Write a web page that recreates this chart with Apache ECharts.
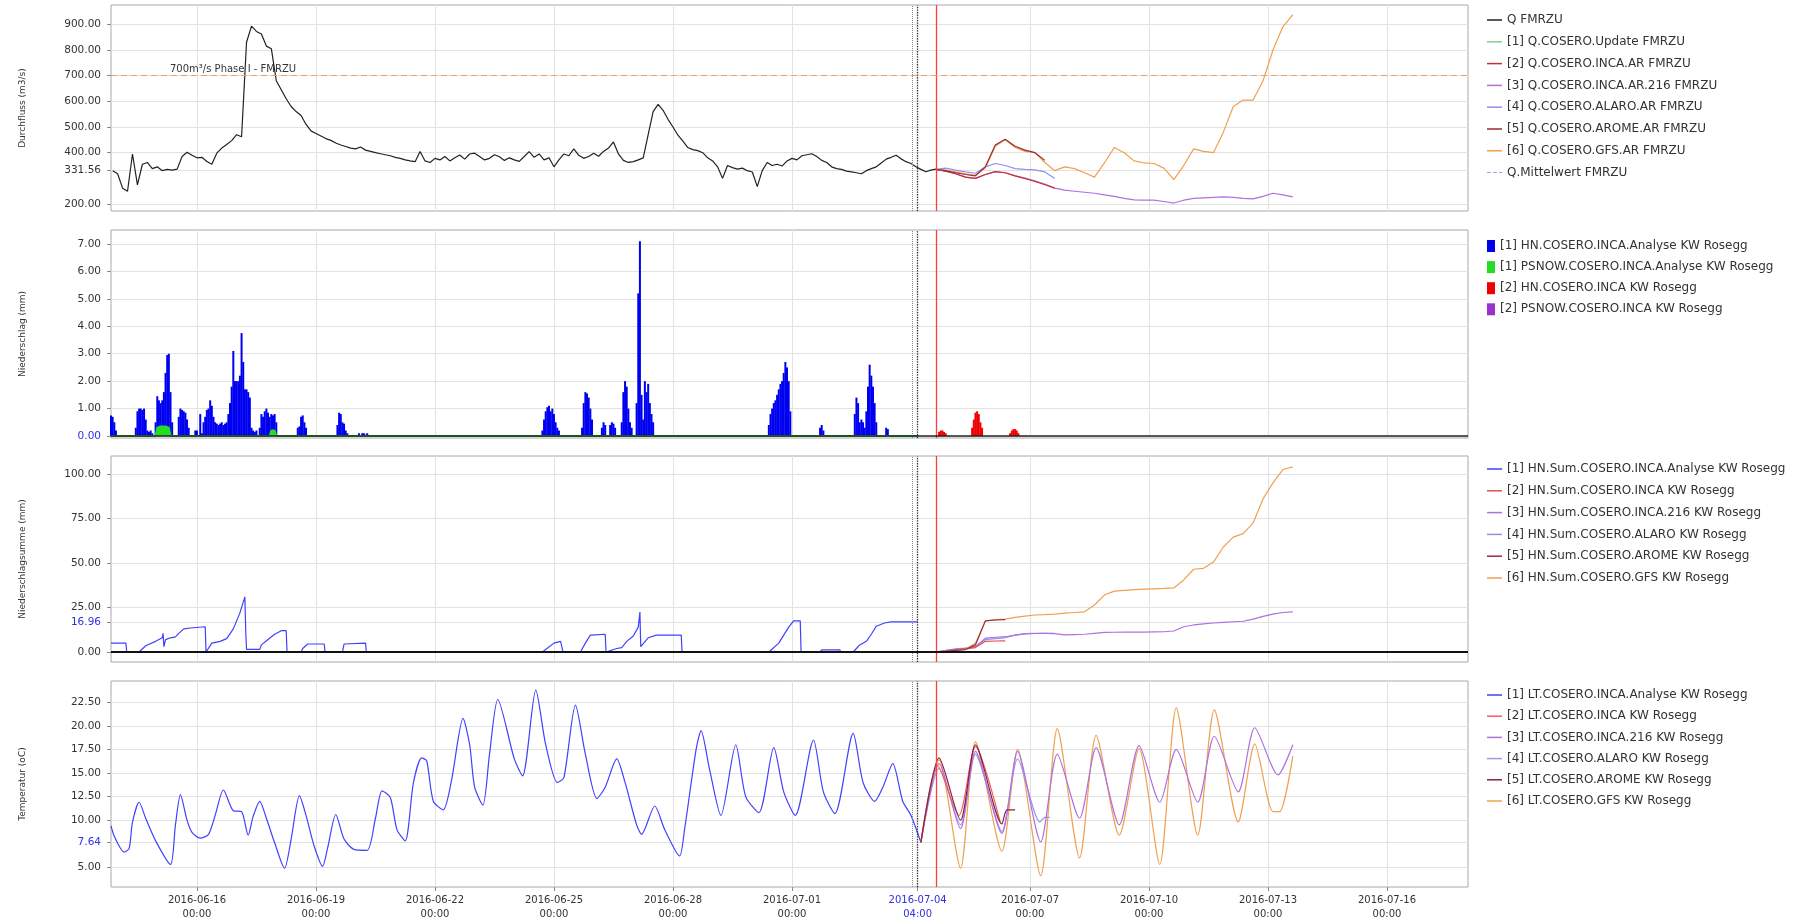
<!DOCTYPE html>
<html>
<head>
<meta charset="utf-8">
<title>FMRZU</title>
<script src="https://cdn.jsdelivr.net/npm/echarts@6/dist/echarts.min.js"></script>
<style>
html, body { margin: 0; padding: 0; background: #fff; }
#chart { width: 1808px; height: 918px; }
</style>
</head>
<body>
<div id="chart"></div>
<script>
const FONT = "DejaVu Sans"
const YEAR = 2016

const xStart = "06-13 20:00"
const xEnd = "07-18 01:00"
const forecastBase = "07-04 04:00"
const runTime = "07-04 15:30"
const xTicks = ["06-16 00:00", "06-19 00:00", "06-22 00:00", "06-25 00:00", "06-28 00:00", "07-01 00:00",
  "07-04 04:00", "07-07 00:00", "07-10 00:00", "07-13 00:00", "07-16 00:00"]

const qTicks = [200, 331.56, 400, 500, 600, 700, 800, 900]
const hnTicks = [0, 1, 2, 3, 4, 5, 6, 7]
const sumTicks = [0, 16.96, 25, 50, 75, 100]
const ltTicks = [5, 7.64, 10, 12.5, 15, 17.5, 20, 22.5]

// Durchfluss, observed, 3h steps from 06-13 21:00
const qObsStart = "06-13 21:00"
const qObs = [330, 318, 262, 250, 395, 275, 355, 362, 338, 345, 330, 335, 332, 336, 385, 402, 390,
  380, 382, 366, 355, 398, 418, 432, 447,
  470, 462, 830, 893, 872, 862, 815, 805,
  680, 645, 610, 580, 560, 545, 510, 485,
  475, 465, 455, 448, 438, 430, 424, 418,
  415, 422, 410, 405, 400, 396, 392, 388,
  382, 378, 372, 368, 365, 405, 368, 362,
  378, 372, 385, 368, 380, 391, 375, 395,
  398, 385, 372, 378, 392, 384, 370, 380,
  372, 366, 385, 404, 382, 395, 372, 380,
  345, 372, 395, 388, 415, 390, 378, 385,
  398, 386, 405, 418, 442, 395, 370, 362,
  365, 372, 380, 470, 560, 588, 565, 530,
  500, 468, 445, 420, 412, 408, 400, 380,
  368, 345, 300, 350, 342, 336, 340, 330,
  325, 268, 330, 362, 350, 355, 348, 368,
  378, 372, 388, 392, 396, 385, 370, 362,
  345, 338, 335, 328, 325, 322, 318, 330,
  338, 345, 360, 375, 382, 390, 376, 365,
  358, 345, 335, 326, 332, 336]

// forecasts, 6h steps from 07-04 15:00
const fcStart = "07-04 15:00"
const qGfs = [335, 332, 325, 318, 312, 340, 425, 450, 420, 405, 400, 362, 330, 345, 338, 322, 305, 360, 420,
  400, 368, 360, 358, 340, 295, 350, 415, 405, 400, 480, 580, 605, 605, 680, 800, 890, 938]
const qInca216 = [335, 328, 318, 305, 300, 315, 326, 322, 310, 300, 290, 278, 262, 254, 250, 246, 242, 236, 230,
  222, 216, 215, 215, 210, 204, 215, 222, 224, 226, 228, 226, 222, 220, 230, 242, 236, 228]
const qAlaro = [335, 340, 332, 325, 320, 345, 358, 350, 338, 335, 333, 325, 300]
const qInca = [335, 328, 318, 305, 300, 315, 326, 322, 310, 300, 288, 275, 262]
const qArome = [335, 330, 322, 315, 310, 345, 430, 452, 425, 410, 400, 370]

// Niederschlag, hourly rain events [start, values]
const hnObsEvents = [
  ["06-13 20:00", [0.75, 0.7, 0.5, 0.2]],
  ["06-14 11:00", [0.3, 0.9, 1.0, 1.0, 0.95, 1.0, 0.6, 0.2]],
  ["06-14 19:00", [0.15, 0.2, 0.1]],
  ["06-14 23:00", [0.5, 1.45, 1.3, 1.2, 1.3, 1.6, 2.3, 2.95, 3.0, 1.6, 0.5]],
  ["06-15 13:00", [0.7, 1.0, 0.95, 0.9, 0.85, 0.6, 0.3]],
  ["06-15 23:00", [0.2, 0.2, 0, 0.8, 0.1]],
  ["06-16 04:00", [0.5, 0.7, 0.95, 1.0, 1.3, 1.1, 0.7, 0.5, 0.45]],
  ["06-16 13:00", [0.4, 0.45, 0.5, 0.4, 0.45, 0.5]],
  ["06-16 19:00", [0.8, 1.2, 1.8, 3.1, 2.0, 2.0, 2.0, 2.2, 3.75, 2.7, 1.7, 1.7, 1.6, 1.4, 0.3]],
  ["06-17 10:00", [0.2, 0.15, 0.2]],
  ["06-17 14:00", [0.3, 0.8, 0.7, 0.9, 1.0, 0.85, 0.7, 0.8, 0.75, 0.8, 0.5]],
  ["06-18 13:00", [0.3, 0.35, 0.7, 0.75, 0.5, 0.3]],
  ["06-19 13:00", [0.4, 0.85, 0.8, 0.5, 0.45, 0.2, 0.1]],
  ["06-20 02:00", [0.1, 0, 0.1, 0.1, 0.05, 0.1]],
  ["06-24 17:00", [0.2, 0.6, 0.9, 1.05, 1.1, 0.9, 1.0, 0.8, 0.5, 0.3, 0.2]],
  ["06-25 17:00", [0.3, 1.2, 1.6, 1.55, 1.4, 1.0, 0.6]],
  ["06-26 05:00", [0.3, 0.5, 0.4]],
  ["06-26 10:00", [0.4, 0.5, 0.45, 0.3]],
  ["06-26 17:00", [0.5, 1.6, 2.0, 1.8, 1.0, 0.5, 0.3]],
  ["06-27 02:00", [1.2, 5.2, 7.1, 1.5, 0.6, 2.0, 1.6, 1.9, 1.2, 0.8, 0.5]],
  ["06-30 10:00", [0.4, 0.8, 1.0, 1.2, 1.3, 1.5, 1.7, 1.9, 2.0, 2.3, 2.7, 2.5, 2.0, 0.9]],
  ["07-01 17:00", [0.3, 0.4, 0.2]],
  ["07-02 14:00", [0.8, 1.4, 1.2, 0.5]],
  ["07-02 18:00", [0.6, 0.5, 0.3]],
  ["07-02 21:00", [0.9, 1.8, 2.6, 2.2, 1.8, 1.2, 0.5]],
  ["07-03 09:00", [0.3, 0.25]]
]
const psnowObs = [["06-13 20:00", 0], ["06-14 23:00", 0], ["06-15 00:00", 0.3], ["06-15 02:00", 0.35],
  ["06-15 05:00", 0.35], ["06-15 07:00", 0.3], ["06-15 08:00", 0], ["06-17 20:00", 0], ["06-17 21:00", 0.2],
  ["06-17 23:00", 0.2], ["06-18 00:00", 0], ["07-04 04:00", 0]]
const hnIncaEvents = [
  ["07-04 17:00", [0.15, 0.2, 0.2, 0.15, 0.1]],
  ["07-05 13:00", [0.3, 0.6, 0.85, 0.9, 0.8, 0.5, 0.3]],
  ["07-06 12:00", [0.1, 0.2, 0.25, 0.25, 0.2, 0.1]]
]

// Niederschlagsumme
const hnSumObs = [["06-13 20:00", 5], ["06-14 05:00", 5], ["06-14 05:30", 0], ["06-14 13:00", 0], ["06-14 17:00", 3.5],
  ["06-14 23:00", 6], ["06-15 03:00", 8], ["06-15 03:30", 10.5], ["06-15 04:00", 3], ["06-15 05:00", 7],
  ["06-15 08:00", 8], ["06-15 11:00", 8.5], ["06-15 13:00", 10.5], ["06-15 16:00", 13], ["06-15 20:00", 13.5],
  ["06-16 05:00", 14.2], ["06-16 05:30", 0], ["06-16 09:00", 5], ["06-16 14:00", 6], ["06-16 18:00", 7.5],
  ["06-16 22:00", 13], ["06-17 02:00", 22], ["06-17 05:00", 31], ["06-17 05:30", 12], ["06-17 06:00", 1.5],
  ["06-17 14:00", 1.5], ["06-17 15:00", 4], ["06-17 19:00", 7], ["06-17 23:00", 10], ["06-18 03:00", 12],
  ["06-18 06:00", 12], ["06-18 06:30", 0], ["06-18 15:00", 0], ["06-18 16:00", 2], ["06-18 19:00", 4.5],
  ["06-19 05:00", 4.5], ["06-19 05:30", 0], ["06-19 16:00", 0], ["06-19 17:00", 4.5], ["06-20 06:00", 5],
  ["06-20 06:30", 0], ["06-24 17:00", 0], ["06-25 00:00", 5], ["06-25 04:00", 6], ["06-25 05:00", 6],
  ["06-25 05:30", 0], ["06-25 16:00", 0], ["06-25 19:00", 5], ["06-25 22:00", 9.5], ["06-26 07:00", 10],
  ["06-26 07:30", 0], ["06-26 08:00", 1], ["06-26 14:00", 2], ["06-26 17:00", 2.5], ["06-26 20:00", 6],
  ["06-27 00:00", 9], ["06-27 03:00", 14], ["06-27 04:00", 22.5], ["06-27 04:30", 3], ["06-27 09:00", 8],
  ["06-27 14:00", 9.5], ["06-28 05:00", 9.5], ["06-28 05:30", 0], ["06-30 10:00", 0], ["06-30 16:00", 5],
  ["06-30 22:00", 14], ["07-01 01:00", 17.5], ["07-01 05:00", 17.5], ["07-01 05:30", 0], ["07-01 17:00", 0],
  ["07-01 18:00", 1.2], ["07-02 05:00", 1.2], ["07-02 05:30", 0], ["07-02 13:00", 0], ["07-02 15:00", 2],
  ["07-02 17:00", 4], ["07-02 21:00", 6], ["07-03 00:00", 10], ["07-03 03:00", 14.5], ["07-03 08:00", 16.3],
  ["07-03 12:00", 16.9], ["07-04 04:00", 16.96]]
const sumGfs = [0, 0.5, 1, 1.5, 5, 17.5, 18.2, 18.5, 19.5, 20.2, 20.8, 21, 21.3, 21.8, 22.2, 22.6, 26.4, 32, 34.2,
  34.6, 35, 35.3, 35.5, 35.7, 36, 40.5, 46.5, 47, 50.5, 59, 64.5, 66.5, 72.5, 86, 95, 102.5, 104]
const sumInca216 = [0, 0.8, 1.5, 2, 3, 7.8, 8.3, 8.6, 9.5, 10.2, 10.4, 10.5, 10.3, 9.6, 9.8, 10, 10.5, 11, 11.1,
  11.2, 11.2, 11.2, 11.3, 11.4, 11.8, 14.2, 15.2, 15.8, 16.3, 16.7, 17, 17.3, 18.5, 20, 21.3, 22.2, 22.6]
const sumAlaro = [0, 1, 1.8, 2.2, 3, 7, 7.5, 8, 9.5, 10.3, 10.5, 10.5, 10.5]
const sumInca = [0, 0.5, 1.2, 1.8, 2.5, 6, 6.2, 6.3]
const sumArome = [0, 0.4, 0.9, 1.4, 4, 17.5, 18, 18.2]

// Temperatur
const ltObs = [["06-13 20:00", 9.4], ["06-13 22:00", 8.3], ["06-14 04:00", 6.6], ["06-14 07:00", 7.0],
  ["06-14 09:00", 9.8], ["06-14 13:00", 11.9], ["06-14 17:00", 10.2], ["06-14 23:00", 7.8], ["06-15 08:00", 5.3],
  ["06-15 11:00", 9.5], ["06-15 14:00", 12.7], ["06-15 18:00", 10.0], ["06-15 21:00", 8.7], ["06-16 02:00", 8.1],
  ["06-16 07:00", 8.5], ["06-16 11:00", 10.5], ["06-16 16:00", 13.2], ["06-16 22:00", 11.0], ["06-17 03:00", 10.9],
  ["06-17 07:00", 8.4], ["06-17 10:00", 10.4], ["06-17 14:00", 12.0], ["06-17 18:00", 10.2], ["06-17 23:00", 7.6],
  ["06-18 05:00", 4.9], ["06-18 09:00", 8.0], ["06-18 14:00", 12.6], ["06-18 18:00", 10.5], ["06-18 23:00", 7.2],
  ["06-19 04:00", 5.1], ["06-19 07:00", 7.0], ["06-19 12:00", 10.6], ["06-19 17:00", 8.0], ["06-19 23:00", 6.9],
  ["06-20 07:00", 6.8], ["06-20 12:00", 10.2], ["06-20 16:00", 13.1], ["06-20 21:00", 12.4], ["06-21 01:00", 9.0],
  ["06-21 06:00", 7.8], ["06-21 11:00", 14.0], ["06-21 16:00", 16.6], ["06-21 19:00", 16.3], ["06-21 23:00", 12.0],
  ["06-22 05:00", 11.1], ["06-22 10:00", 14.2], ["06-22 17:00", 20.8], ["06-22 21:00", 18.0], ["06-23 00:00", 13.5],
  ["06-23 05:00", 11.6], ["06-23 09:00", 17.0], ["06-23 14:00", 22.8], ["06-24 00:00", 16.5], ["06-24 05:00", 14.7],
  ["06-24 13:00", 23.8], ["06-24 19:00", 18.0], ["06-25 02:00", 14.0], ["06-25 06:00", 14.5], ["06-25 13:00", 22.2],
  ["06-25 19:00", 17.0], ["06-26 02:00", 12.3], ["06-26 07:00", 13.5], ["06-26 14:00", 16.5], ["06-26 19:00", 14.0],
  ["06-27 02:00", 9.5], ["06-27 05:00", 8.5], ["06-27 13:00", 11.5], ["06-27 19:00", 9.0], ["06-28 04:00", 6.2],
  ["06-28 07:00", 9.0], ["06-28 14:00", 17.5], ["06-28 17:00", 19.5], ["06-28 22:00", 15.5], ["06-29 05:00", 10.5],
  ["06-29 14:00", 18.0], ["06-29 20:00", 12.5], ["06-30 04:00", 10.8], ["06-30 13:00", 17.7], ["06-30 19:00", 13.0],
  ["07-01 02:00", 10.5], ["07-01 13:00", 18.5], ["07-01 19:00", 13.0], ["07-02 02:00", 10.7], ["07-02 13:00", 19.2],
  ["07-02 19:00", 14.0], ["07-03 02:00", 12.0], ["07-03 07:00", 13.5], ["07-03 13:00", 16.0], ["07-03 19:00", 12.0],
  ["07-04 00:00", 10.5], ["07-04 06:00", 7.64]]
const ltGfs = [["07-04 06:00", 7.64], ["07-04 17:00", 16.4], ["07-05 06:00", 4.9], ["07-05 15:00", 18.3],
  ["07-06 07:00", 6.7], ["07-06 16:30", 17.5], ["07-07 06:30", 4.1], ["07-07 16:30", 19.7], ["07-08 06:00", 6.0],
  ["07-08 16:00", 19.0], ["07-09 06:00", 8.4], ["07-09 18:00", 17.6], ["07-10 06:30", 5.3], ["07-10 16:30", 21.9],
  ["07-11 05:30", 8.4], ["07-11 15:30", 21.7], ["07-12 06:00", 9.8], ["07-12 16:00", 18.1], ["07-13 03:00", 10.9],
  ["07-13 07:00", 10.9], ["07-13 15:00", 16.8]]
const ltInca216 = [["07-04 06:00", 7.64], ["07-04 17:00", 16.0], ["07-05 06:00", 9.1], ["07-05 15:00", 17.3],
  ["07-06 07:00", 8.6], ["07-06 16:30", 17.3], ["07-07 06:30", 7.7], ["07-07 16:30", 17.0], ["07-08 06:00", 10.2],
  ["07-08 16:00", 17.7], ["07-09 06:00", 9.5], ["07-09 18:00", 17.9], ["07-10 06:30", 11.9], ["07-10 16:30", 17.5],
  ["07-11 05:30", 11.9], ["07-11 15:30", 18.9], ["07-12 06:00", 13.0], ["07-12 16:00", 19.8], ["07-13 06:00", 14.8],
  ["07-13 15:00", 18.0]]
const ltAlaro = [["07-04 06:00", 7.64], ["07-04 17:00", 15.5], ["07-05 06:00", 9.5], ["07-05 15:00", 17.0],
  ["07-06 07:00", 8.8], ["07-06 16:30", 16.5], ["07-07 06:00", 9.8], ["07-07 09:00", 10.3], ["07-07 12:00", 10.3]]
const ltInca = [["07-04 06:00", 7.64], ["07-04 16:00", 15.8], ["07-05 05:00", 10.5], ["07-05 15:00", 17.8],
  ["07-06 06:00", 9.8]]
const ltArome = [["07-04 06:00", 7.64], ["07-04 17:00", 16.6], ["07-05 06:00", 10.0], ["07-05 15:00", 18.0],
  ["07-06 07:00", 9.6], ["07-06 10:00", 11.1], ["07-06 15:00", 11.1]]

const HOUR = 3600 * 1000
const toTime = s => {
  const [md, hm] = s.split(" ")
  const [mo, d] = md.split("-").map(Number)
  const [h, mi] = hm.split(":").map(Number)
  return new Date(YEAR, mo - 1, d, h, mi).getTime()
}
const regular = (start, stepH, vals) => vals.map((v, i) => [toTime(start) + i * stepH * HOUR, v])
const pairs = list => list.map(([t, v]) => [toTime(t), v])
const events = list => list.flatMap(([t, vals]) => vals.map((v, i) => [toTime(t) + i * HOUR, v]))
const pad = n => String(n).padStart(2, "0")

const baseT = toTime(forecastBase)
const tickValues = xTicks.map(toTime)

const fmtTime = v => {
  const d = new Date(v)
  const day = d.getFullYear() + "-" + pad(d.getMonth() + 1) + "-" + pad(d.getDate())
  const hm = pad(d.getHours()) + ":" + pad(d.getMinutes())
  return Math.abs(v - baseT) < 1000 ? "{hl|" + day + "}\n{hl|" + hm + "}" : day + "\n" + hm
}

const grids = [
  { top: 5, height: 206 },
  { top: 230, height: 208 },
  { top: 456, height: 206 },
  { top: 681, height: 206 }
].map(g => ({ ...g, left: 111, width: 1357, show: true, borderColor: "#a8a8a8", borderWidth: 1,
  backgroundColor: "#fff", outerBoundsMode: "none", containLabel: false }))

const xAxes = grids.map((g, i) => ({
  type: "value", gridIndex: i, min: toTime(xStart), max: toTime(xEnd),
  axisLine: { show: false },
  axisTick: { show: i === 3, length: 4, customValues: tickValues, lineStyle: { color: "#888" } },
  axisLabel: {
    show: i === 3, customValues: tickValues, formatter: fmtTime, fontFamily: FONT, fontSize: 10,
    color: "#333", lineHeight: 14, margin: 6,
    rich: { hl: { color: "#3030e0", fontFamily: FONT, fontSize: 10, lineHeight: 14 } }
  },
  splitLine: { show: true, lineStyle: { color: "#e2e2e2", width: 1 } }
}))

function yAxis(i, min, max, ticks, name, highlight) {
  return {
    type: "value", gridIndex: i, min, max, name, nameLocation: "middle", nameGap: 84,
    nameTextStyle: { fontFamily: FONT, fontSize: 9, color: "#333" },
    axisLine: { show: false },
    axisTick: { show: true, length: 4, customValues: ticks, lineStyle: { color: "#888" } },
    axisLabel: {
      customValues: ticks, fontFamily: FONT, fontSize: 10.5, color: "#333", margin: 10,
      formatter: v => Math.abs(v - highlight) < 1e-6 ? "{hl|" + v.toFixed(2) + "}" : v.toFixed(2),
      rich: { hl: { color: "#3030e0", fontFamily: FONT, fontSize: 10.5 } }
    },
    splitLine: { show: true, lineStyle: { color: "#e2e2e2", width: 1 } }
  }
}

const yAxes = [
  yAxis(0, 173, 975, qTicks, "Durchfluss (m3/s)", null),
  yAxis(1, -0.073, 7.51, hnTicks, "Niederschlag (mm)", 0),
  yAxis(2, -5.6, 110.1, sumTicks, "Niederschlagsumme (mm)", 16.96),
  yAxis(3, 2.91, 24.76, ltTicks, "Temperatur (oC)", 7.64)
]

const vLines = extra => ({
  silent: true, symbol: "none", animation: false, label: { show: false },
  data: [
    { xAxis: toTime("07-04 01:00"), lineStyle: { color: "#888", type: "dotted", width: 1 } },
    { xAxis: baseT, lineStyle: { color: "#333", type: "dotted", width: 1.3 } },
    { xAxis: toTime(runTime), lineStyle: { color: "#ff3b3b", type: "solid", width: 1.3 } },
    ...extra
  ]
})

function line(name, i, data, color, opts = {}) {
  const { lineStyle, ...rest } = opts
  return {
    name, type: "line", xAxisIndex: i, yAxisIndex: i, data, symbol: "none",
    itemStyle: { color }, ...rest,
    lineStyle: { color, width: 1.2, ...(lineStyle || {}) }
  }
}
function bars(name, i, data, color) {
  return {
    name, type: "bar", xAxisIndex: i, yAxisIndex: i, data, barWidth: 2, barGap: "-100%",
    itemStyle: { color }
  }
}

const series = [
  line("Q.Mittelwert FMRZU", 0, [], "#9aaad0", {
    lineStyle: { type: [4, 3] },
    markLine: vLines([{
      yAxis: 700, lineStyle: { color: "#f0a060", type: [6, 4], width: 1.2 },
      label: { show: true, position: "insideStartTop", formatter: "700m³/s Phase I - FMRZU", color: "#333",
        fontFamily: FONT, fontSize: 10, distance: [59, 1] }
    }])
  }),
  line("[1] Q.COSERO.Update FMRZU", 0, [], "#7fd09a"),
  line("[4] Q.COSERO.ALARO.AR FMRZU", 0, regular(fcStart, 6, qAlaro), "#9090f0"),
  line("[3] Q.COSERO.INCA.AR.216 FMRZU", 0, regular(fcStart, 6, qInca216), "#b070e0"),
  line("[2] Q.COSERO.INCA.AR FMRZU", 0, regular(fcStart, 6, qInca), "#c83030"),
  line("[6] Q.COSERO.GFS.AR FMRZU", 0, regular(fcStart, 6, qGfs), "#f0a050"),
  line("[5] Q.COSERO.AROME.AR FMRZU", 0, regular(fcStart, 6, qArome), "#9a2a3a"),
  line("Q FMRZU", 0, regular(qObsStart, 3, qObs), "#222"),

  bars("[1] HN.COSERO.INCA.Analyse KW Rosegg", 1, events(hnObsEvents), "#0000f0"),
  bars("[2] HN.COSERO.INCA KW Rosegg", 1, events(hnIncaEvents), "#f00000"),
  line("[2] PSNOW.COSERO.INCA KW Rosegg", 1, [], "#9933cc"),
  line("[1] PSNOW.COSERO.INCA.Analyse KW Rosegg", 1, pairs(psnowObs), "#22dd22", {
    lineStyle: { width: 2 }, areaStyle: { color: "#22dd22", opacity: 1 },
    markLine: vLines([{ yAxis: 0, lineStyle: { color: "#222", type: "solid", width: 1.5 } }])
  }),

  line("[1] HN.Sum.COSERO.INCA.Analyse KW Rosegg", 2, pairs(hnSumObs), "#4040ff", {
    markLine: vLines([{ yAxis: 0, lineStyle: { color: "#111", type: "solid", width: 2 } }])
  }),
  line("[4] HN.Sum.COSERO.ALARO KW Rosegg", 2, regular(fcStart, 6, sumAlaro), "#9090e8"),
  line("[3] HN.Sum.COSERO.INCA.216 KW Rosegg", 2, regular(fcStart, 6, sumInca216), "#b070e0"),
  line("[2] HN.Sum.COSERO.INCA KW Rosegg", 2, regular(fcStart, 6, sumInca), "#e05050"),
  line("[6] HN.Sum.COSERO.GFS KW Rosegg", 2, regular(fcStart, 6, sumGfs), "#f0a050"),
  line("[5] HN.Sum.COSERO.AROME KW Rosegg", 2, regular(fcStart, 6, sumArome), "#9a2a4a"),

  line("[1] LT.COSERO.INCA.Analyse KW Rosegg", 3, pairs(ltObs), "#4040ff", { smooth: 0.25, markLine: vLines([]) }),
  line("[6] LT.COSERO.GFS KW Rosegg", 3, pairs(ltGfs), "#f0a050", { smooth: 0.25 }),
  line("[4] LT.COSERO.ALARO KW Rosegg", 3, pairs(ltAlaro), "#9a9af0", { smooth: 0.25 }),
  line("[3] LT.COSERO.INCA.216 KW Rosegg", 3, pairs(ltInca216), "#b070e0", { smooth: 0.25 }),
  line("[2] LT.COSERO.INCA KW Rosegg", 3, pairs(ltInca), "#f06060", { smooth: 0.25 }),
  line("[5] LT.COSERO.AROME KW Rosegg", 3, pairs(ltArome), "#8a2040", { smooth: 0.25 })
]

const dashIcon = "path://M0,0h4v1h-4z M6,0h4v1h-4z M12,0h3v1h-3z"

function legend(top, gap, names, square) {
  return {
    orient: "vertical", left: 1487, top, itemGap: gap,
    itemWidth: square ? 8 : 15, itemHeight: square ? 12 : 1.5,
    icon: "rect", data: names, selectedMode: false, padding: 0,
    textStyle: { fontFamily: FONT, fontSize: 12, color: "#333", lineHeight: 14 }
  }
}

const legends = [
  legend(13, 7.8, ["Q FMRZU", "[1] Q.COSERO.Update FMRZU", "[2] Q.COSERO.INCA.AR FMRZU",
    "[3] Q.COSERO.INCA.AR.216 FMRZU", "[4] Q.COSERO.ALARO.AR FMRZU", "[5] Q.COSERO.AROME.AR FMRZU",
    "[6] Q.COSERO.GFS.AR FMRZU", { name: "Q.Mittelwert FMRZU", icon: dashIcon }]),
  legend(239, 7.1, ["[1] HN.COSERO.INCA.Analyse KW Rosegg", "[1] PSNOW.COSERO.INCA.Analyse KW Rosegg",
    "[2] HN.COSERO.INCA KW Rosegg", "[2] PSNOW.COSERO.INCA KW Rosegg"], true),
  legend(462, 7.8, ["[1] HN.Sum.COSERO.INCA.Analyse KW Rosegg", "[2] HN.Sum.COSERO.INCA KW Rosegg",
    "[3] HN.Sum.COSERO.INCA.216 KW Rosegg", "[4] HN.Sum.COSERO.ALARO KW Rosegg",
    "[5] HN.Sum.COSERO.AROME KW Rosegg", "[6] HN.Sum.COSERO.GFS KW Rosegg"]),
  legend(688, 7.2, ["[1] LT.COSERO.INCA.Analyse KW Rosegg", "[2] LT.COSERO.INCA KW Rosegg",
    "[3] LT.COSERO.INCA.216 KW Rosegg", "[4] LT.COSERO.ALARO KW Rosegg",
    "[5] LT.COSERO.AROME KW Rosegg", "[6] LT.COSERO.GFS KW Rosegg"])
]

const chart = echarts.init(document.getElementById("chart"), null, { renderer: "canvas" })
chart.setOption({
  animation: false,
  backgroundColor: "#fff",
  grid: grids,
  xAxis: xAxes,
  yAxis: yAxes,
  legend: legends,
  series
})
</script>
</body>
</html>
